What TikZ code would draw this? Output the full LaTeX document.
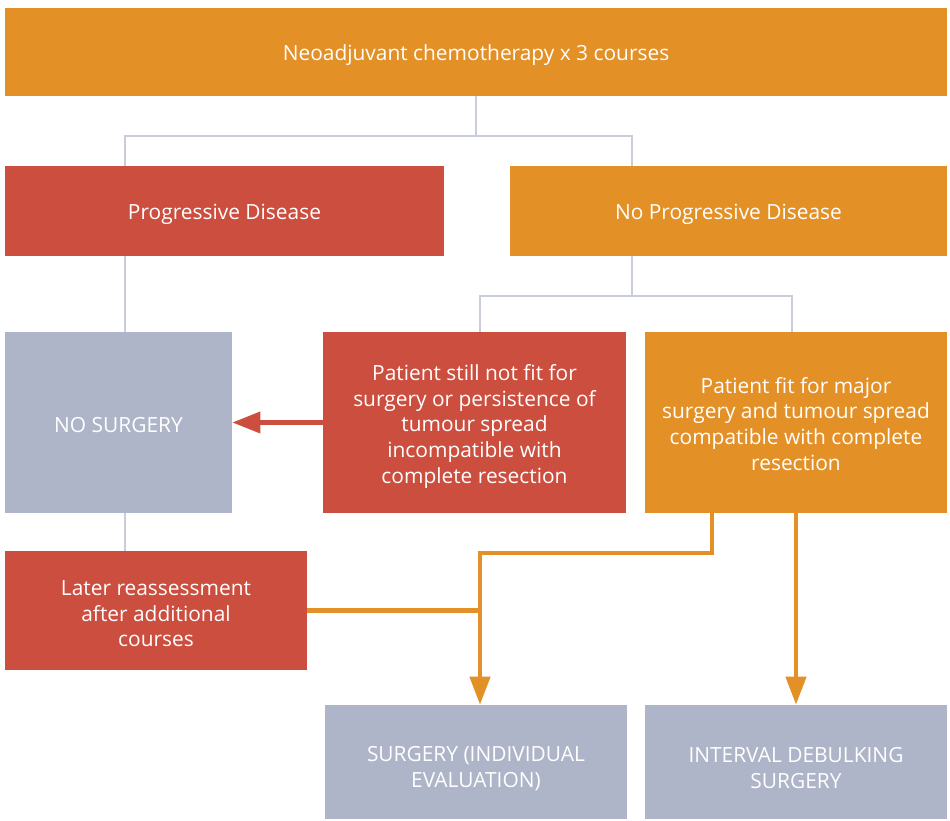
\documentclass[tikz,border=0pt]{standalone}
\usepackage{fontspec}
\setmainfont{Open Sans}
\usepackage{xcolor}
\usepackage{tikz}
\usetikzlibrary{positioning,arrows.meta}

\definecolor{boxorange}{RGB}{227,144,39}
\definecolor{boxred}{RGB}{203,78,62}
\definecolor{boxgrey}{RGB}{175,181,200}
\definecolor{linegrey}{RGB}{201,204,218}

% raise the top of the first line to push text down a little
\newcommand\lift[1]{\rule{0pt}{#1}}

\tikzset{
  box/.style={inner sep=0pt, align=center, text=white, font=\fontsize{11.9}{14.6}\selectfont},
  orangebox/.style={box, fill=boxorange},
  redbox/.style={box, fill=boxred},
  greybox/.style={box, fill=boxgrey},
  tree/.style={draw=linegrey, line width=1.5pt},
  flow/.style={draw=boxorange, line width=2.3pt},
  tip/.style={-{Triangle[length=16pt,width=11.5pt]}}
}

\begin{document}
\begin{tikzpicture}[x=0.02cm,y=-0.02cm]
\useasboundingbox (0,0) rectangle (950,821);

% Boxes
\node[orangebox, minimum width=942*0.02cm, minimum height=88*0.02cm] (chemo) at (476,52) {\lift{13pt}Neoadjuvant chemotherapy x 3 courses};
\node[redbox, minimum width=439*0.02cm, minimum height=90*0.02cm] (pd) at (224.5,211) {\lift{13pt}Progressive Disease};
\node[orangebox, minimum width=437*0.02cm, minimum height=90*0.02cm] (npd) at (728.5,211) {\lift{13pt}No Progressive Disease};
\node[greybox, minimum width=227*0.02cm, minimum height=181*0.02cm] (nosurg) at (118.5,422.5) {\lift{12pt}NO SURGERY};
\node[redbox, minimum width=303*0.02cm, minimum height=181*0.02cm] (notfit) at (474.5,422.5)
  {\lift{13.5pt}Patient still not fit for\\surgery or persistence of\\tumour spread\\incompatible with\\complete resection};
\node[orangebox, minimum width=302*0.02cm, minimum height=181*0.02cm] (fit) at (796,422.5)
  {\lift{10.7pt}Patient fit for major\\surgery and tumour spread\\compatible with complete\\resection};
\node[redbox, minimum width=302*0.02cm, minimum height=119*0.02cm] (later) at (156,610.5)
  {\lift{12.4pt}Later reassessment\\after additional\\courses};
\node[greybox, minimum width=302*0.02cm, minimum height=114*0.02cm] (surg) at (476,762)
  {\lift{15.8pt}SURGERY (INDIVIDUAL\\EVALUATION)};
\node[greybox, minimum width=302*0.02cm, minimum height=114*0.02cm] (ids) at (796,762)
  {\lift{15.8pt}INTERVAL DEBULKING\\SURGERY};

% Grey tree lines
\coordinate (jl) at (125,136);
\coordinate (jr) at (632,136);
\draw[tree] (chemo.south) -- (chemo.south |- jl);
\draw[tree] (pd.north -| jl) -- (jl) -- (jr) -- (npd.north -| jr);
\draw[tree] (pd.south -| jl) -- (nosurg.north -| jl);
\draw[tree] (nosurg.south -| jl) -- (later.north -| jl);
\coordinate (kl) at (480,296);
\coordinate (kr) at (792,296);
\draw[tree] (npd.south -| jr) -- (jr |- kl);
\draw[tree] (notfit.north -| kl) -- (kl) -- (kr) -- (fit.north -| kr);

% Arrows
\draw[line width=2.3pt, color=boxred, -{Triangle[length=16pt,width=12pt]}] (notfit.west) -- (nosurg.east);
\coordinate (ml) at (480,553);
\coordinate (mr) at (712,553);
\draw[flow, tip, color=boxorange] (fit.south -| mr) -- (mr) -- (ml) -- (surg.north -| ml);
\draw[flow] (later.east) -- (later.east -| ml);
\draw[flow, tip, color=boxorange] (fit.south) -- (ids.north);
\end{tikzpicture}
\end{document}
